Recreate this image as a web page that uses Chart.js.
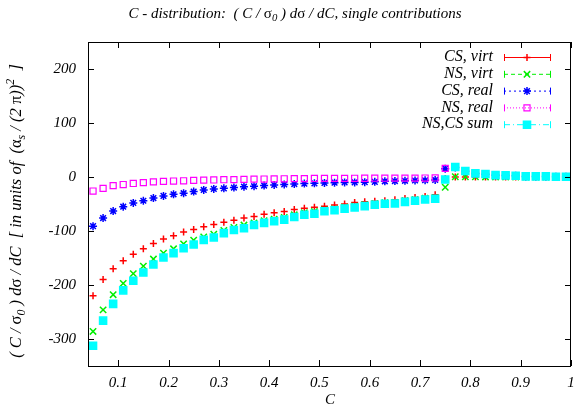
<!DOCTYPE html>
<html>
<head>
<meta charset="utf-8">
<script src="https://cdn.jsdelivr.net/npm/chart.js@4.4.0/dist/chart.umd.min.js"></script>
<style>
  html, body { margin: 0; padding: 0; background: #fff; }
</style>
</head>
<body>
<canvas id="grafico" width="578" height="414"></canvas>
<script>
// Valores de C (centros dos bins)
const valoresC = [0.05, 0.07, 0.09, 0.11, 0.13, 0.15, 0.17, 0.19, 0.21, 0.23, 0.25, 0.27,
  0.29, 0.31, 0.33, 0.35, 0.37, 0.39, 0.41, 0.43, 0.45, 0.47, 0.49, 0.51,
  0.53, 0.55, 0.57, 0.59, 0.61, 0.63, 0.65, 0.67, 0.69, 0.71, 0.73, 0.75,
  0.77, 0.79, 0.81, 0.83, 0.85, 0.87, 0.89, 0.91, 0.93, 0.95, 0.97, 0.99];

const csVirt = [-220, -190, -170, -155, -143, -133, -123, -115, -109, -102, -97, -92,
  -88, -84, -80, -76, -73, -69, -66, -64, -60, -58, -56, -54,
  -52, -50, -47, -46, -45, -44, -42, -40, -38, -36, -33, -3,
  0, 0, 0, 0, 0, 0, 0, 0, 0, 0, 0, 0];

const nsVirt = [-286, -246, -218, -197, -179, -165, -152, -141, -133, -124, -117, -111,
  -106, -99, -93.5, -89, -85, -81, -78, -75, -70, -66, -64, -61,
  -59, -56, -54, -51.5, -49.5, -47.5, -47, -44, -42, -39.5, -38.5, -19,
  0.5, 0.3, 0.2, 0.1, 0.1, 0.1, 0, 0, 0, 0, 0, 0];

const csReal = [-91, -76, -63, -55, -48, -44, -39, -35, -32, -30, -27, -24,
  -22, -21, -19.5, -18, -17, -15.8, -14.6, -13.8, -13, -12.2, -11.8, -11,
  -10.5, -10, -10, -9.5, -9, -8, -7.5, -7, -6.5, -6, -5.5, 15.5,
  17.5, 10.5, 6.3, 5, 3.3, 2.8, 2.2, 1, 1, 0.9, 0.4, 0.4];

const nsReal = [-26, -21, -16, -14, -12, -10.5, -9, -8, -7.5, -7, -6.3, -5.8,
  -5.5, -5, -4.8, -4.5, -4, -3.8, -3.5, -3.3, -3.1, -2.9, -2.7, -2.6,
  -2.5, -2.5, -2.4, -2.3, -2.2, -2.2, -2.1, -2, -2, -1.9, -1.8, 16,
  18, 11, 6.5, 5.3, 3.5, 3, 2.4, 1.1, 1.1, 1, 0.5, 0.5];

const somaNsCs = [-312.5, -266, -235, -210, -192, -177, -162, -149, -141, -132, -125, -116.5,
  -112, -104, -98, -95, -89, -85, -82, -79, -74, -70, -68, -63.5,
  -61.5, -58.5, -56.5, -54, -51.5, -49.6, -49, -46, -44, -41.6, -40.3, -4.5,
  18.4, 11, 6.7, 5.4, 3.5, 3, 2.4, 1.1, 1.1, 1.1, 0.5, 0.5];

const rotulos = ["CS, virt", "NS, virt", "CS, real", "NS, real", "NS,CS sum"];
const ticksX = [0.1, 0.2, 0.3, 0.4, 0.5, 0.6, 0.7, 0.8, 0.9, 1];
const ticksY = [-300, -200, -100, 0, 100, 200];

const FONTE = '"Liberation Serif", "Times New Roman", serif';
const tracos = [[], [4, 3], [2, 3], [1, 2], [6, 3, 1, 3]];

function pontos(serie) {
  return valoresC.map((c, i) => ({ x: c, y: serie[i] }));
}

// texto com sub/sobrescritos
function fontePara(p, tam) {
  const t = p.d ? tam * 0.72 : tam;
  return (p.g ? '' : 'italic ') + t + 'px ' + FONTE;
}
function larguraRica(ctx, partes, tam) {
  let w = 0;
  partes.forEach(p => { ctx.font = fontePara(p, tam); w += ctx.measureText(p.t).width; });
  return w;
}
function desenhaRico(ctx, partes, tam, x, y) {
  let cx = x - larguraRica(ctx, partes, tam) / 2;
  partes.forEach(p => {
    ctx.font = fontePara(p, tam);
    let dy = 0;
    if (p.d === 'sub') dy = tam * 0.3;
    if (p.d === 'sup') dy = -tam * 0.4;
    ctx.fillText(p.t, cx, y + dy);
    cx += ctx.measureText(p.t).width;
  });
}

const titulo = [
  { t: 'C - distribution:  ( C / ' }, { t: 'σ', g: true }, { t: '0', d: 'sub' },
  { t: ' ) d' }, { t: 'σ', g: true }, { t: ' / dC, single contributions' }
];
const tituloY = [
  { t: '( C / ' }, { t: 'σ', g: true }, { t: '0', d: 'sub' }, { t: ' ) d' }, { t: 'σ', g: true },
  { t: ' / dC  [ in units of  (' }, { t: 'α', g: true }, { t: 's', d: 'sub' },
  { t: ' / (2 ' }, { t: 'π', g: true }, { t: '))' }, { t: '2', d: 'sup' }, { t: '  ]' }
];

const molduraGnuplot = {
  id: 'molduraGnuplot',
  afterDraw(chart) {
    const ctx = chart.ctx;
    const a = chart.chartArea;
    const sx = chart.scales.x, sy = chart.scales.y;
    ctx.save();
    ctx.strokeStyle = '#000';
    ctx.lineWidth = 1;
    ctx.strokeRect(Math.round(a.left) + 0.5, Math.round(a.top) + 0.5,
      Math.round(a.right - a.left) - 1, Math.round(a.bottom - a.top));
    ctx.beginPath();
    sx.ticks.forEach(t => {
      const px = Math.round(sx.getPixelForValue(t.value)) + 0.5;
      ctx.moveTo(px, a.bottom); ctx.lineTo(px, a.bottom - 6);
      ctx.moveTo(px, a.top); ctx.lineTo(px, a.top + 6);
    });
    sy.ticks.forEach(t => {
      const py = Math.round(sy.getPixelForValue(t.value)) + 0.5;
      ctx.moveTo(a.left, py); ctx.lineTo(a.left + 6, py);
      ctx.moveTo(a.right, py); ctx.lineTo(a.right - 6, py);
    });
    ctx.stroke();

    // titulos
    ctx.fillStyle = '#000';
    ctx.textAlign = 'left';
    ctx.textBaseline = 'middle';
    desenhaRico(ctx, titulo, 15, 295, 14);
    ctx.save();
    ctx.translate(17, 211);
    ctx.rotate(-Math.PI / 2);
    desenhaRico(ctx, tituloY, 16.5, 0, 0);
    ctx.restore();
    ctx.textAlign = 'center';
    ctx.font = 'italic 15px ' + FONTE;
    ctx.fillText('C', 330, 400);

    // legenda
    ctx.textAlign = 'right';
    chart.data.datasets.forEach((ds, i) => {
      const y = 57 + i * 16.8;
      ctx.fillStyle = '#000';
      ctx.font = 'italic 16px ' + FONTE;
      ctx.fillText(ds.label, 493, y);
      ctx.strokeStyle = ds.borderColor;
      ctx.lineWidth = 1;
      ctx.setLineDash(tracos[i]);
      ctx.beginPath();
      ctx.moveTo(504, y + 0.5); ctx.lineTo(551, y + 0.5);
      ctx.stroke();
      ctx.setLineDash([]);
      ctx.beginPath();
      ctx.moveTo(504.5, y - 3); ctx.lineTo(504.5, y + 4);
      ctx.moveTo(550.5, y - 3); ctx.lineTo(550.5, y + 4);
      ctx.stroke();
      ctx.fillStyle = ds.backgroundColor;
      ctx.lineWidth = ds.borderWidth;
      Chart.helpers.drawPoint(ctx, {
        pointStyle: ds.pointStyle, radius: ds.pointRadius,
        borderWidth: ds.borderWidth, rotation: 0
      }, 527, y + 0.5);
    });
    ctx.restore();
  }
};

const cores = ['#ff0000', '#00ee00', '#0000ff', '#ff00ff', '#00ffff'];
const estilos = ['cross', 'crossRot', 'star', 'rect', 'rect'];
const raios = [3.5, 4.5, 4, 4.3, 5];
const preenchimentos = ['#ff0000', '#00ee00', '#0000ff', 'rgba(0,0,0,0)', '#00ffff'];
const series = [csVirt, nsVirt, csReal, nsReal, somaNsCs];

const ctx = document.getElementById('grafico').getContext('2d');
new Chart(ctx, {
  type: 'scatter',
  data: {
    datasets: series.map((s, i) => ({
      label: rotulos[i],
      data: pontos(s),
      borderColor: cores[i],
      backgroundColor: preenchimentos[i],
      pointStyle: estilos[i],
      pointRadius: raios[i],
      pointHoverRadius: raios[i],
      borderWidth: i === 3 ? 1.2 : 1.5,
      showLine: false,
      order: 5 - i
    }))
  },
  options: {
    responsive: false,
    animation: false,
    events: [],
    layout: { padding: { left: 0, right: 7, top: 42, bottom: 0 } },
    plugins: {
      legend: { display: false },
      title: { display: false },
      tooltip: { enabled: false }
    },
    scales: {
      x: {
        type: 'linear',
        min: 0.04,
        max: 1,
        grid: { display: false, drawTicks: false },
        border: { display: false },
        afterBuildTicks: s => { s.ticks = ticksX.map(v => ({ value: v })); },
        afterFit: s => { s.height = 48; s.paddingLeft = 0; s.paddingRight = 0; },
        ticks: {
          padding: 8,
          maxRotation: 0,
          color: '#000',
          font: { family: FONTE, size: 15, style: 'italic' },
          callback: v => (v === 1 ? '1' : v.toFixed(1))
        }
      },
      y: {
        type: 'linear',
        min: -350,
        max: 250,
        grid: { display: false, drawTicks: false },
        border: { display: false },
        afterBuildTicks: s => { s.ticks = ticksY.map(v => ({ value: v })); },
        afterFit: s => { s.width = 88; s.paddingTop = 0; s.paddingBottom = 0; },
        ticks: {
          padding: 12,
          color: '#000',
          font: { family: FONTE, size: 15, style: 'italic' },
          callback: v => String(v)
        }
      }
    }
  },
  plugins: [molduraGnuplot]
});
</script>
</body>
</html>
